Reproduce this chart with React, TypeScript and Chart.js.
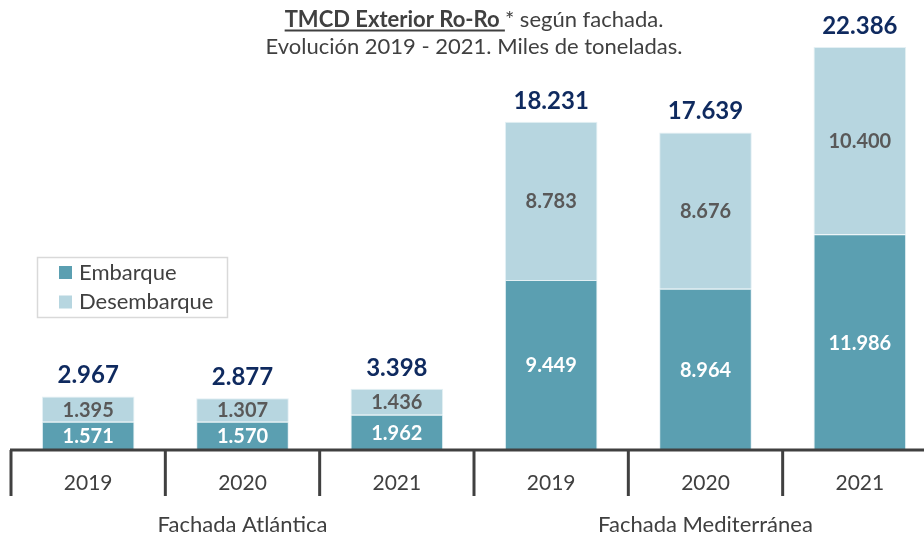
import React, { useEffect, useRef } from 'react';
import { Chart, registerables } from 'chart.js';

Chart.register(...registerables);

const categories = ['2019', '2020', '2021', '2019', '2020', '2021'];
const groupLabels = ['Fachada Atlántica', 'Fachada Mediterránea'];
const seriesNames = ['Embarque', 'Desembarque'];
const embarque = [1571, 1570, 1962, 9449, 8964, 11986];
const desembarque = [1395, 1307, 1436, 8783, 8676, 10400];
const totals = [2967, 2877, 3398, 18231, 17639, 22386];
const titleBold = 'TMCD Exterior Ro-Ro ';
const titleRest = '* según fachada.';
const subtitle = 'Evolución 2019 - 2021. Miles de toneladas.';

const COL_EMB = '#5b9fb1';
const COL_DES = '#b7d6e0';
const TEXT = '#404040';
const NAVY = '#0f2a5f';
const FONT = 'Lato, "Open Sans", sans-serif';

const fmt = (v: number) => String(v).replace(/\B(?=(\d{3})+(?!\d))/g, '.');

const overlayPlugin = {
  id: 'overlay',
  afterDatasetsDraw(chart: any) {
    const ctx = chart.ctx;
    ctx.save();
    ctx.textAlign = 'center';
    ctx.textBaseline = 'middle';
    chart.data.datasets.forEach((ds: any, i: number) => {
      const meta = chart.getDatasetMeta(i);
      meta.data.forEach((bar: any, j: number) => {
        const p = bar.getProps(['x', 'y', 'base'], true);
        ctx.font = `bold 20px ${FONT}`;
        ctx.fillStyle = i === 0 ? '#ffffff' : '#595959';
        ctx.fillText(fmt(ds.data[j]), p.x, (p.y + p.base) / 2 + 1);
        if (i === chart.data.datasets.length - 1) {
          ctx.font = `bold 24px ${FONT}`;
          ctx.fillStyle = NAVY;
          ctx.fillText(fmt(totals[j]), p.x, p.y - 21);
        }
      });
    });
    ctx.restore();
  },
  afterDraw(chart: any) {
    const ctx = chart.ctx;
    const xs = chart.scales.x;
    const ys = chart.scales.y;
    const n = categories.length;
    const w = (xs.right - xs.left) / n;
    const axisY = ys.getPixelForValue(0);
    ctx.save();
    // axis line
    ctx.strokeStyle = TEXT;
    ctx.lineWidth = 3;
    ctx.beginPath();
    ctx.moveTo(xs.left - 1, axisY);
    ctx.lineTo(xs.right + 5, axisY);
    ctx.stroke();
    // category separators
    for (let i = 0; i <= n; i++) {
      const x = xs.left + i * w;
      ctx.beginPath();
      ctx.moveTo(x, axisY);
      ctx.lineTo(x, axisY + 46);
      ctx.stroke();
    }
    // tick labels
    ctx.fillStyle = TEXT;
    ctx.textAlign = 'center';
    ctx.textBaseline = 'middle';
    ctx.font = `21px ${FONT}`;
    categories.forEach((c, i) => {
      ctx.fillText(c, xs.getPixelForValue(i), axisY + 33);
    });
    // group labels
    ctx.font = `22px ${FONT}`;
    groupLabels.forEach((g, gi) => {
      const cx = xs.left + (gi * 3 + 1.5) * w;
      ctx.fillText(g, cx, axisY + 75);
    });
    // title
    const tcx = 474;
    ctx.font = `bold 22px ${FONT}`;
    const wb = ctx.measureText(titleBold).width;
    ctx.font = `22px ${FONT}`;
    const wr = ctx.measureText(titleRest).width;
    const startX = tcx - (wb + wr) / 2;
    ctx.textAlign = 'left';
    ctx.textBaseline = 'alphabetic';
    ctx.font = `bold 22px ${FONT}`;
    ctx.fillText(titleBold, startX, 27);
    ctx.fillRect(startX, 29.5, wb, 2);
    ctx.font = `22px ${FONT}`;
    ctx.fillText(titleRest, startX + wb, 27);
    ctx.textAlign = 'center';
    ctx.fillText(subtitle, tcx, 54);
    // legend
    ctx.strokeStyle = '#d9d9d9';
    ctx.lineWidth = 1.5;
    ctx.strokeRect(37.5, 257.5, 190, 60);
    const cols = [COL_EMB, COL_DES];
    seriesNames.forEach((s, i) => {
      const cy = 272.5 + i * 29.5;
      ctx.fillStyle = cols[i];
      ctx.fillRect(59, cy - 6.5, 13, 13);
      ctx.fillStyle = TEXT;
      ctx.textAlign = 'left';
      ctx.textBaseline = 'middle';
      ctx.font = `22px ${FONT}`;
      ctx.fillText(s, 79, cy);
    });
    ctx.restore();
  },
};

export default function App() {
  const ref = useRef<HTMLCanvasElement | null>(null);
  useEffect(() => {
    if (!ref.current) return;
    const chart = new Chart(ref.current, {
      type: 'bar',
      data: {
        labels: categories,
        datasets: [
          {
            label: seriesNames[0],
            data: embarque,
            backgroundColor: COL_EMB,
            borderColor: 'rgba(225,238,243,0.9)',
            borderWidth: 1,
            barPercentage: 0.6,
            categoryPercentage: 1,
          },
          {
            label: seriesNames[1],
            data: desembarque,
            backgroundColor: COL_DES,
            borderColor: 'rgba(225,238,243,0.9)',
            borderWidth: 1,
            barPercentage: 0.6,
            categoryPercentage: 1,
          },
        ],
      },
      options: {
        responsive: false,
        animation: false,
        layout: { padding: { left: 11, right: 0, top: 0, bottom: 86 } },
        plugins: { legend: { display: false }, tooltip: { enabled: false }, title: { display: false } },
        scales: {
          x: { display: false, stacked: true },
          y: { display: false, stacked: true, min: 0, max: 25000 },
        },
      },
      plugins: [overlayPlugin],
    });
    return () => chart.destroy();
  }, []);
  return (
    <div style={{ position: 'absolute', left: 0, top: 0, width: 924, height: 536, overflow: 'hidden', background: '#fff' }}>
      <canvas ref={ref} width={937} height={536} style={{ display: 'block' }} />
    </div>
  );
}
